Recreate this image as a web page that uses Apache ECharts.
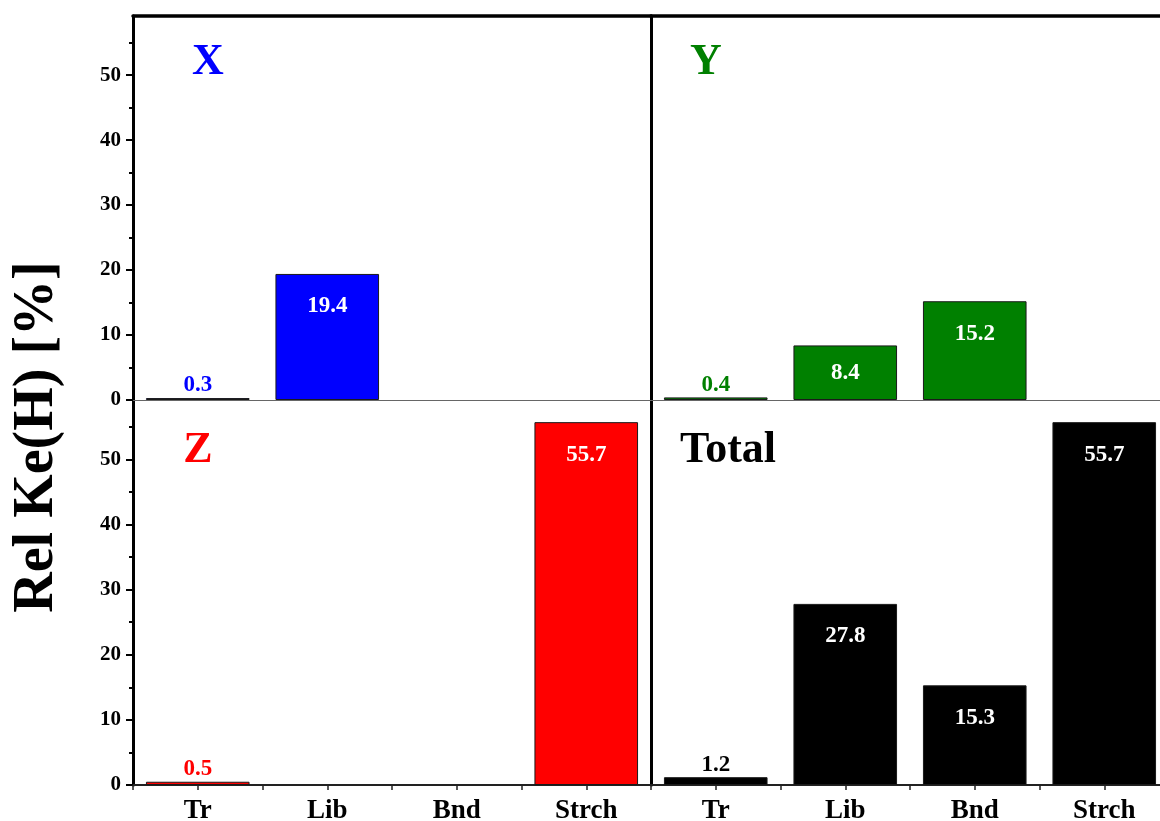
<!DOCTYPE html>
<html>
<head>
<meta charset="utf-8">
<script src="https://cdn.jsdelivr.net/npm/echarts@6/dist/echarts.min.js"></script>
<style>
  html, body { margin: 0; padding: 0; background: #ffffff; }
  #chart { width: 1160px; height: 821px; }
</style>
</head>
<body>
<div id="chart"></div>
<script>
// Relative kinetic energy of H, split by motion type and by direction
const categories = ['Tr', 'Lib', 'Bnd', 'Strch'];
const xValues = [0.3, 19.4, null, null];
const yValues = [0.4, 8.4, 15.2, null];
const zValues = [0.5, null, null, 55.7];
const totalValues = [1.2, 27.8, 15.3, 55.7];
const majorTicks = [0, 10, 20, 30, 40, 50];
const minorTicks = [5, 15, 25, 35, 45, 55];
const axisMax = 59.1;
const yTitle = 'Rel Ke(H) [%]';

const FONT = "'Liberation Serif', 'Times New Roman', serif";

const panels = [
  { name: 'X', color: '#0000FF', values: xValues },
  { name: 'Y', color: '#008000', values: yValues },
  { name: 'Z', color: '#FF0000', values: zValues },
  { name: 'Total', color: '#000000', values: totalValues }
];

// 2 x 2 layout of plot areas (the right column runs past the page edge)
const gridBoxes = [
  { left: 133, top: 16, width: 518, height: 384 },
  { left: 651, top: 16, width: 518, height: 384 },
  { left: 133, top: 400, width: 518, height: 385 },
  { left: 651, top: 400, width: 518, height: 385 }
];

// Panel captions: centre points
const captionPos = [[208, 63], [706, 63], [198, 451], [728, 451]];

function valueLabel(v, color) {
  if (v == null) return { show: false };
  if (v < 5) return { show: true, position: 'top', distance: 1, color: color };
  if (v < 10) return { show: true, position: 'inside', color: '#ffffff' };
  return { show: true, position: 'insideTop', distance: 21, color: '#ffffff' };
}

const grid = [];
const xAxis = [];
const yAxis = [];
const series = [];
const graphic = [];

panels.forEach(function (p, i) {
  const isTop = i < 2;
  const isLeft = i % 2 === 0;
  grid.push(Object.assign({ containLabel: false, outerBoundsMode: 'none' }, gridBoxes[i]));

  // main category axis
  const mainX = xAxis.length;
  if (isTop) {
    xAxis.push({
      type: 'category', gridIndex: i, data: categories, position: 'bottom',
      axisLine: { show: true, onZero: false, lineStyle: { color: '#666666', width: 1 } },
      axisTick: { show: false }, axisLabel: { show: false }
    });
    // top frame line
    xAxis.push({
      type: 'category', gridIndex: i, data: categories, position: 'top',
      axisLine: { show: true, onZero: false, lineStyle: { color: '#000000', width: 3.5 } },
      axisTick: { show: false }, axisLabel: { show: false }
    });
  } else {
    xAxis.push({
      type: 'category', gridIndex: i, data: categories, position: 'bottom',
      axisLine: { show: true, onZero: false, lineStyle: { color: '#222222', width: 2 } },
      axisTick: { show: true, length: 5, lineStyle: { color: '#222222', width: 1.5 } },
      axisLabel: { show: true, color: '#000000', fontFamily: FONT, fontWeight: 'bold', fontSize: 27, margin: 13 }
    });
    // centre ticks under each category
    xAxis.push({
      type: 'category', gridIndex: i, data: categories, position: 'bottom',
      axisLine: { show: false, onZero: false },
      axisTick: { show: true, alignWithLabel: true, length: 5, lineStyle: { color: '#222222', width: 1.5 } },
      axisLabel: { show: false }
    });
  }

  const mainY = yAxis.length;
  if (isLeft) {
    yAxis.push({
      type: 'value', gridIndex: i, min: 0, max: axisMax, position: 'left',
      splitLine: { show: false },
      axisLine: { show: true, onZero: false, lineStyle: { color: '#000000', width: 3 } },
      axisTick: { show: true, customValues: majorTicks, length: 7, lineStyle: { color: '#000000', width: 2 } },
      axisLabel: { show: true, customValues: majorTicks, color: '#000000', fontFamily: FONT, fontWeight: 'bold', fontSize: 21, margin: 12 }
    });
    yAxis.push({
      type: 'value', gridIndex: i, min: 0, max: axisMax, position: 'left',
      splitLine: { show: false },
      axisLine: { show: false, onZero: false },
      axisTick: { show: true, customValues: minorTicks, length: 4, lineStyle: { color: '#000000', width: 2 } },
      axisLabel: { show: false }
    });
  } else {
    yAxis.push({
      type: 'value', gridIndex: i, min: 0, max: axisMax, position: 'left',
      splitLine: { show: false },
      axisLine: { show: true, onZero: false, lineStyle: { color: '#000000', width: 3 } },
      axisTick: { show: false }, axisLabel: { show: false }
    });
  }

  series.push({
    type: 'bar',
    name: p.name,
    xAxisIndex: mainX,
    yAxisIndex: mainY,
    barCategoryGap: '20%',
    itemStyle: { color: p.color, borderColor: '#1a1a1a', borderWidth: 1 },
    label: {
      fontFamily: FONT, fontWeight: 'bold', fontSize: 23,
      formatter: function (d) { return Number(d.value).toFixed(1); }
    },
    data: p.values.map(function (v) {
      return v == null ? null : { value: v, label: valueLabel(v, p.color) };
    })
  });

  graphic.push({
    type: 'text',
    x: captionPos[i][0], y: captionPos[i][1],
    style: {
      text: p.name, fill: p.color, font: 'bold 44px ' + FONT,
      align: 'center', verticalAlign: 'middle'
    },
    z: 10
  });
});

graphic.push({
  type: 'text',
  x: 38, y: 437,
  rotation: Math.PI / 2,
  style: {
    text: yTitle, fill: '#000000', font: 'bold 56px ' + FONT,
    align: 'center', verticalAlign: 'middle'
  },
  z: 10
});

const chart = echarts.init(document.getElementById('chart'), null, { renderer: 'canvas' });
chart.setOption({
  backgroundColor: '#ffffff',
  animation: false,
  grid: grid,
  xAxis: xAxis,
  yAxis: yAxis,
  series: series,
  graphic: graphic
});
</script>
</body>
</html>
